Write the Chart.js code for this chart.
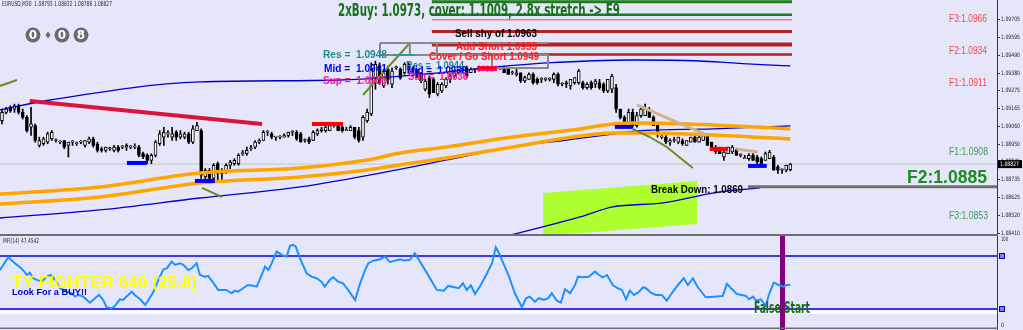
<!DOCTYPE html>
<html lang="en">
<head>
  <meta charset="UTF-8">
  <title>EURUSD,M30</title>
  <script src="https://cdn.jsdelivr.net/npm/chart.js"></script>
  <style>
    html, body { margin: 0; padding: 0; background: #E6E6FA; }
    #wrap { position: relative; width: 1023px; height: 330px; overflow: hidden; background: #E6E6FA; }
    #priceCanvas { position: absolute; left: 0; top: 0; width: 1023px; height: 236px; }
    #mfiCanvas { position: absolute; left: 0; top: 236px; width: 1023px; height: 94px; }
  </style>
</head>
<body>
  <div id="wrap">
    <canvas id="priceCanvas" width="1023" height="236"></canvas>
    <canvas id="mfiCanvas" width="1023" height="94"></canvas>
  </div>

  <script>
    // price scale labels
    const priceTicks = [1.09705, 1.09595, 1.09490, 1.09380, 1.09275, 1.09165, 1.09060,
                        1.08950, 1.08845, 1.08735, 1.08625, 1.08520, 1.08410];

    // candles [open, high, low, close], one per M30 bar
    const ohlc = [
      [1.0909,1.0916,1.0907,1.0914],[1.0914,1.0917,1.0913,1.0916],[1.0917,1.0918,1.0914,1.0915],[1.0916,1.0919,1.0914,1.0918],[1.0918,1.0919,1.0913,1.0914],
      [1.0914,1.0916,1.0910,1.0911],[1.0911,1.0912,1.0902,1.0903],[1.0905,1.0917,1.0900,1.0907],[1.0906,1.0907,1.0896,1.0897],[1.0894,1.0899,1.0893,1.0897],
      [1.0895,1.0899,1.0894,1.0898],[1.0896,1.0902,1.0895,1.0901],[1.0898,1.0903,1.0897,1.0902],[1.0897,1.0898,1.0896,1.0897],[1.0896,1.0897,1.0895,1.0896],
      [1.0897,1.0897,1.0892,1.0893],[1.0894,1.0896,1.0887,1.0896],[1.0896,1.0897,1.0894,1.0896],[1.0895,1.0896,1.0894,1.0895],[1.0896,1.0897,1.0895,1.0896],
      [1.0894,1.0897,1.0893,1.0897],[1.0896,1.0899,1.0895,1.0898],[1.0898,1.0899,1.0893,1.0894],[1.0895,1.0896,1.0890,1.0891],[1.0892,1.0893,1.0890,1.0891],
      [1.0891,1.0893,1.0890,1.0893],[1.0892,1.0893,1.0891,1.0892],[1.0891,1.0894,1.0890,1.0893],[1.0893,1.0894,1.0890,1.0891],[1.0893,1.0894,1.0892,1.0893],
      [1.0893,1.0895,1.0891,1.0894],[1.0893,1.0894,1.0892,1.0893],[1.0893,1.0895,1.0892,1.0893],[1.0893,1.0894,1.0887,1.0888],[1.0889,1.0890,1.0886,1.0887],
      [1.0888,1.0889,1.0883,1.0885],[1.0885,1.0889,1.0883,1.0888],[1.0888,1.0897,1.0887,1.0896],[1.0895,1.0903,1.0894,1.0901],[1.0899,1.0905,1.0894,1.0902],
      [1.0901,1.0903,1.0899,1.0901],[1.0899,1.0905,1.0897,1.0901],[1.0902,1.0903,1.0897,1.0899],[1.0899,1.0903,1.0898,1.0901],[1.0899,1.0902,1.0898,1.0901],
      [1.0901,1.0902,1.0895,1.0896],[1.0896,1.0906,1.0895,1.0904],[1.0903,1.0908,1.0903,1.0906],[1.0903,1.0904,1.0874,1.0876],[1.0875,1.0880,1.0871,1.0879],
      [1.0879,1.0880,1.0871,1.0874],[1.0874,1.0883,1.0873,1.0882],[1.0883,1.0884,1.0873,1.0877],[1.0877,1.0880,1.0873,1.0879],[1.0878,1.0883,1.0877,1.0882],
      [1.0882,1.0885,1.0880,1.0884],[1.0883,1.0886,1.0882,1.0885],[1.0883,1.0889,1.0882,1.0888],[1.0889,1.0891,1.0888,1.0889],[1.0889,1.0893,1.0888,1.0891],
      [1.0892,1.0894,1.0891,1.0892],[1.0893,1.0897,1.0892,1.0896],[1.0896,1.0898,1.0895,1.0897],[1.0897,1.0903,1.0897,1.0902],[1.0902,1.0903,1.0900,1.0902],
      [1.0901,1.0902,1.0898,1.0899],[1.0899,1.0899,1.0897,1.0899],[1.0899,1.0900,1.0898,1.0899],[1.0899,1.0901,1.0899,1.0900],[1.0900,1.0902,1.0899,1.0902],
      [1.0902,1.0903,1.0900,1.0902],[1.0902,1.0903,1.0897,1.0898],[1.0901,1.0902,1.0896,1.0896],[1.0897,1.0898,1.0896,1.0897],[1.0898,1.0899,1.0895,1.0896],
      [1.0897,1.0903,1.0897,1.0902],[1.0901,1.0904,1.0900,1.0903],[1.0903,1.0905,1.0902,1.0904],[1.0903,1.0906,1.0902,1.0905],[1.0903,1.0907,1.0903,1.0906],
      [1.0906,1.0907,1.0905,1.0906],[1.0906,1.0907,1.0903,1.0903],[1.0905,1.0906,1.0902,1.0903],[1.0903,1.0905,1.0903,1.0903],[1.0903,1.0906,1.0903,1.0905],
      [1.0905,1.0905,1.0898,1.0899],[1.0903,1.0905,1.0896,1.0897],[1.0899,1.0912,1.0897,1.0911],[1.0909,1.0916,1.0908,1.0914],[1.0913,1.0944,1.0912,1.0940],
      [1.0935,1.0945,1.0928,1.0943],[1.0942,1.0944,1.0931,1.0932],[1.0930,1.0940,1.0929,1.0938],[1.0940,1.0942,1.0931,1.0934],[1.0931,1.0941,1.0929,1.0939],
      [1.0941,1.0942,1.0940,1.0941],[1.0940,1.0941,1.0934,1.0935],[1.0938,1.0944,1.0937,1.0943],[1.0940,1.0944,1.0938,1.0943],[1.0940,1.0941,1.0938,1.0940],
      [1.0940,1.0940,1.0935,1.0937],[1.0938,1.0938,1.0932,1.0933],[1.0928,1.0934,1.0927,1.0933],[1.0935,1.0936,1.0923,1.0925],[1.0934,1.0935,1.0926,1.0926],
      [1.0925,1.0932,1.0924,1.0931],[1.0927,1.0932,1.0926,1.0931],[1.0930,1.0935,1.0929,1.0934],[1.0934,1.0937,1.0932,1.0936],[1.0936,1.0939,1.0935,1.0938],
      [1.0938,1.0940,1.0937,1.0940],[1.0940,1.0941,1.0938,1.0940],[1.0941,1.0942,1.0935,1.0936],[1.0938,1.0941,1.0938,1.0940],[1.0940,1.0940,1.0938,1.0940],
      [1.0940,1.0942,1.0939,1.0941],[1.0941,1.0942,1.0940,1.0941],[1.0940,1.0942,1.0939,1.0941],[1.0940,1.0941,1.0939,1.0940],[1.0941,1.0942,1.0940,1.0941],
      [1.0941,1.0942,1.0940,1.0941],[1.0941,1.0942,1.0938,1.0938],[1.0940,1.0941,1.0937,1.0937],[1.0938,1.0939,1.0937,1.0938],[1.0937,1.0940,1.0936,1.0938],
      [1.0938,1.0938,1.0932,1.0933],[1.0933,1.0936,1.0932,1.0935],[1.0934,1.0938,1.0934,1.0937],[1.0937,1.0938,1.0931,1.0932],[1.0934,1.0935,1.0931,1.0932],
      [1.0934,1.0935,1.0932,1.0934],[1.0934,1.0935,1.0933,1.0934],[1.0934,1.0935,1.0933,1.0934],[1.0934,1.0938,1.0932,1.0937],[1.0937,1.0938,1.0930,1.0931],
      [1.0931,1.0932,1.0930,1.0931],[1.0932,1.0933,1.0929,1.0931],[1.0930,1.0934,1.0928,1.0934],[1.0932,1.0935,1.0931,1.0935],[1.0932,1.0940,1.0931,1.0939],
      [1.0932,1.0933,1.0928,1.0929],[1.0929,1.0932,1.0928,1.0931],[1.0932,1.0933,1.0928,1.0929],[1.0931,1.0934,1.0929,1.0933],[1.0932,1.0934,1.0928,1.0929],
      [1.0931,1.0932,1.0926,1.0927],[1.0927,1.0934,1.0926,1.0934],[1.0928,1.0937,1.0926,1.0936],[1.0929,1.0931,1.0914,1.0916],[1.0916,1.0916,1.0910,1.0911],
      [1.0911,1.0912,1.0905,1.0906],[1.0908,1.0916,1.0907,1.0914],[1.0914,1.0916,1.0905,1.0906],[1.0906,1.0914,1.0905,1.0912],[1.0912,1.0917,1.0911,1.0916],
      [1.0912,1.0919,1.0912,1.0916],[1.0916,1.0917,1.0911,1.0911],[1.0911,1.0912,1.0906,1.0906],[1.0907,1.0908,1.0899,1.0902],[1.0899,1.0900,1.0898,1.0899],
      [1.0899,1.0900,1.0895,1.0896],[1.0896,1.0898,1.0894,1.0897],[1.0897,1.0899,1.0896,1.0897],[1.0896,1.0899,1.0895,1.0899],[1.0897,1.0898,1.0894,1.0895],
      [1.0894,1.0897,1.0894,1.0897],[1.0896,1.0899,1.0896,1.0899],[1.0899,1.0900,1.0896,1.0896],[1.0896,1.0900,1.0896,1.0899],[1.0897,1.0902,1.0897,1.0900],
      [1.0900,1.0901,1.0894,1.0894],[1.0896,1.0896,1.0891,1.0891],[1.0893,1.0894,1.0889,1.0890],[1.0892,1.0893,1.0889,1.0889],[1.0887,1.0891,1.0885,1.0890],
      [1.0889,1.0893,1.0889,1.0893],[1.0890,1.0894,1.0889,1.0893],[1.0891,1.0892,1.0888,1.0888],[1.0888,1.0889,1.0887,1.0888],[1.0886,1.0888,1.0886,1.0886],
      [1.0886,1.0889,1.0885,1.0888],[1.0888,1.0889,1.0885,1.0885],[1.0887,1.0888,1.0883,1.0884],[1.0886,1.0887,1.0882,1.0883],[1.0885,1.0890,1.0885,1.0889],
      [1.0886,1.0891,1.0886,1.0890],[1.0887,1.0888,1.0879,1.0879],[1.0881,1.0882,1.0877,1.0879],[1.0879,1.0880,1.0877,1.0879],[1.0879,1.0882,1.0878,1.0882],
      [1.08793,1.08832,1.08786,1.08827]
    ];

    // moving averages, read at a few bars
    const fastBars = [-0.5, 23.6, 47.7, 71.8, 88, 95.9, 107.2, 123.1, 139.3, 147.2, 153, 171.3, 190];
    const fastVals = [1.08646, 1.08689, 1.08773, 1.08804, 1.08852, 1.08894, 1.08931, 1.08991, 1.09040, 1.09070, 1.09076, 1.09064, 1.09040];
    const midBars  = [-0.5, 23.6, 47.7, 71.8, 88, 95.9, 107.2, 123.1, 136.1, 147.2, 155.4, 171.3, 190];
    const midVals  = [1.08586, 1.08628, 1.08713, 1.08749, 1.08792, 1.08822, 1.08864, 1.08931, 1.08985, 1.09015, 1.09015, 1.09003, 1.08979];
    const slowBars = [-0.5, 23.6, 47.7, 71.8, 91.1, 107.2, 123.1, 136.1, 147.2, 153, 171.3, 190];
    const slowVals = [1.08501, 1.08550, 1.08622, 1.08689, 1.08773, 1.08852, 1.08931, 1.08973, 1.09009, 1.09028, 1.09040, 1.09058];
    const topBars  = [-0.5, 11.6, 47.7, 81.4, 131.3, 152, 168.2, 176.1, 184.3, 190];
    const topVals  = [1.09155, 1.09215, 1.09324, 1.09336, 1.09439, 1.09457, 1.09451, 1.09439, 1.09427, 1.09421];
    const bandBars = [117.6, 121.7, 139.3, 147.2, 159.3, 171.3, 182.7];
    const bandVals = [1.08368, 1.08392, 1.08507, 1.08568, 1.08592, 1.08652, 1.08683];

    // green target zone corners
    const zoneBars   = [130.4, 167.5, 167.5, 130.4];
    const zonePrices = [1.08652, 1.08725, 1.08465, 1.08392];

    // trade levels drawn from bar 103.6
    const tradeLevels = [1.0981, 1.0973, 1.0970, 1.0963, 1.0955, 1.0949];
    const breakDown = 1.0869;

    // MFI(14)
    const mfiBars = [-0.5,1.5,3.1,4.7,6,6.7,7.5,8.4,9.6,10.8,11.7,12.8,14,15.6,16.8,17.6,18.4,19.6,21.2,22.4,23.4,24.4,25.2,26.4,27.2,28.4,29.2,30.4,31.3,32,
      33.3,34.5,35.3,36.5,37.7,38.9,39.7,40.9,41.7,42.9,43.7,44.9,45.7,46.9,47.7,48.9,49.7,50.9,52.1,53.3,54.1,55.3,56.1,56.9,58.1,59.3,60.6,61.4,62.6,63.4,
      64.2,65,66.2,67.4,68.6,69.4,70.2,70.8,71.8,73.4,74.6,75.8,77,77.8,79,79.8,81,82.2,83.4,85.1,86.3,87.5,88.3,89.5,91.1,92.3,93.5,94.7,95.9,96.9,
      98.3,99.5,102.2,104.8,106.5,107.5,110.1,111.1,112,113,114,115.4,116.9,118.1,119,119.8,121,122.2,123.6,125.3,126.3,127.2,128.4,129.4,130.6,131.6,132.5,133.7,134.7,135.7,
      136.9,138.1,138.8,140,141.4,142.9,143.9,144.8,145.8,147.2,148.4,149.4,150.4,151.3,152.3,153.3,154.5,155.2,156.4,157.6,159,160.2,161.4,162.9,164.3,165.3,166.5,167.7,169.6,171.6,
      173.7,174.7,175.7,177.1,178.3,179.3,180,181,181.7,182.9,184.1,184.8,186,187.2,188.2,189.2,190];
    const mfiVals = [64,78.6,71.8,66,58.5,61,54.8,52.9,51,56.6,58.5,52.9,43.5,39.6,37.8,34,35.9,34,27.2,32.2,35.9,30.2,22,20.8,23.4,31,30.2,35.9,39.6,35.9,
      31,24.6,30.2,39.6,52.9,65,66,73.6,69.9,71.8,69.9,64,66,71.8,58.5,56.6,57.4,49.8,41.6,41.6,41.6,37.8,40.8,39.6,43.5,47.2,46.4,45.3,58.5,68,
      64,71.8,85,81.2,79.3,91.4,92.5,90.6,77.5,60.5,56.6,54.8,51,45.3,52.9,56,51,49,41.6,30.2,49,64,71.8,74.7,76.3,79.3,73,74.7,76.3,75,
      75.6,83.1,62.3,41.6,40.8,46.1,43.5,49.1,41.6,46.9,37,47.2,60.5,71.8,89.9,83.1,69.9,56.6,37.8,22,32.2,34,28.3,32.2,30.2,32.2,37.8,29.4,27.2,42.4,
      37.8,47.2,56.6,55.9,56.6,62.3,58.5,55.9,58.5,47.2,43.5,41.6,31,40.8,35.9,38.5,44.6,43.5,38.5,35.9,35.9,29.4,37.8,47.2,54.8,47.2,54.8,44.6,33.3,34,
      34.8,48.4,43.5,37,35.9,34.8,31,34,29.4,31,23.4,35.9,49.8,47.2,45.3,47.2,47.4542];
    const mfiLevels = [80, 20];
    const signalBar = 188.1;

    const BAR_MIN = -0.48, BAR_MAX = 239.8;

    // helpers
    function at(chart, bar, val) {
      return [chart.scales.x.getPixelForValue(bar), chart.scales.y.getPixelForValue(val)];
    }
    function path(ctx, pts, color, width) {
      ctx.save();
      ctx.strokeStyle = color; ctx.lineWidth = width; ctx.lineJoin = 'round';
      ctx.beginPath();
      pts.forEach((p, i) => i ? ctx.lineTo(p[0], p[1]) : ctx.moveTo(p[0], p[1]));
      ctx.stroke();
      ctx.restore();
    }
    function fitText(ctx, str, x, y, w, font, color) {
      ctx.save();
      ctx.font = font; ctx.fillStyle = color;
      ctx.textAlign = 'left'; ctx.textBaseline = 'middle';
      const m = ctx.measureText(str).width;
      ctx.translate(x, y); ctx.scale(w / m, 1);
      ctx.fillText(str, 0, 0);
      ctx.restore();
    }
    function clipArea(ctx, a) {
      ctx.save();
      ctx.beginPath(); ctx.rect(a.left, a.top, a.right - a.left, a.bottom - a.top); ctx.clip();
    }
    const xy = (bars, vals) => bars.map((b, i) => ({ x: b, y: vals[i] }));

    const levelStyle = [['#1E7B1E', 3], ['#1E7B1E', 2.5], ['#F07878', 1.5], ['#B22222', 3], ['#B22222', 4], ['#B22222', 2.5]];

    // hand drawn objects on the chart (bar, price)
    const sketches = [
      { c: '#DC143C', w: 4, pts: [[6.7, 1.09209], [62.7, 1.09070]] },
      { c: '#6B8E23', w: 2, pts: [[-0.5, 1.09300], [3.6, 1.09336]] },
      { c: '#6B8E23', w: 2, pts: [[87, 1.09245], [98.3, 1.09560]] },
      { c: '#6B8E23', w: 2, pts: [[48.2, 1.08683], [53, 1.08628]] },
      { c: '#6B8E23', w: 2, pts: [[152, 1.09040], [156.1, 1.08991], [160.2, 1.08931], [166.5, 1.08804]] },
      { c: '#D2B48C', w: 3, pts: [[153, 1.09185], [169.9, 1.09003]] },
      { c: '#D2B48C', w: 3, pts: [[177, 1.08919], [182.2, 1.08900]] },
      { c: '#8A8A8A', w: 2, pts: [[91.1, 1.09560], [131.6, 1.09560]] },
      { c: '#8A8A8A', w: 2, pts: [[91.1, 1.09560], [91.1, 1.09487], [131.6, 1.09487], [131.6, 1.09409], [118.1, 1.09409], [118.1, 1.09487]] },
      { c: '#8A8A8A', w: 2, pts: [[98.3, 1.09560], [98.3, 1.09487]] },
      { c: '#8A8A8A', w: 2, pts: [[104.8, 1.09560], [104.8, 1.09487]] },
      { c: '#20A0A0', w: 2, pts: [[94.2, 1.09487], [99.5, 1.09487]] },
      { c: '#0000FF', w: 4, pts: [[30.1, 1.08834], [34.9, 1.08834]] },
      { c: '#0000FF', w: 4, pts: [[46.5, 1.08725], [51.3, 1.08725]] },
      { c: '#0000FF', w: 4, pts: [[147.7, 1.09052], [152, 1.09052]] },
      { c: '#0000FF', w: 4, pts: [[179.8, 1.08816], [184.3, 1.08816]] },
      { c: '#FF0000', w: 4, pts: [[74.7, 1.09070], [82.2, 1.09070]] },
      { c: '#FF1493', w: 5, pts: [[114.5, 1.09405], [119.3, 1.09405]] },
      { c: '#FF0000', w: 3, pts: [[114.5, 1.09409], [119.3, 1.09409]] },
      { c: '#FF0000', w: 4, pts: [[170.6, 1.08919], [175, 1.08919]] }
    ];

    const B = 'bold ', AR = 'px "Liberation Sans", Arial, sans-serif';
    const NAR = 'px "Liberation Sans Narrow", "DejaVu Sans Condensed", "Liberation Sans", sans-serif';
    // text objects: [text, left, middle y, width, font, colour]
    const priceNotes = [
      ['2xBuy: 1.0973, cover: 1.1009, 2.8x stretch -> E9', 338, 11.5, 282, B + '17' + NAR, '#17701A'],
      ['Sell shy of 1.0963', 455, 34.5, 82, B + '10' + AR, '#000000'],
      ['Add Short 1.0955', 456, 47, 81, B + '10' + AR, '#FF1A1A'],
      ['Cover / Go Short 1.0949', 429, 57.5, 110, B + '10' + AR, '#FF1A1A'],
      ['Res =  1.0948', 323, 55, 64, B + '10' + AR, '#1E8C8C'],
      ['Mid =  1.0941', 324, 69.5, 63, B + '10' + AR, '#0000E6'],
      ['Sup =  1.0935', 323, 81.5, 64, B + '10' + AR, '#FF1493'],
      ['Res =  1.0944', 406, 66.5, 58, B + '10' + AR, '#1E8C8C'],
      ['Mid =  1.0939', 407, 71.5, 60, B + '10' + AR, '#0000E6'],
      ['Sup =  1.0936', 408, 77, 60, B + '10' + AR, '#FF1493'],
      ['F3:1.0966', 949, 19, 38, '10.5' + AR, '#F04848'],
      ['F2:1.0934', 949, 51.5, 38, '10.5' + AR, '#F04848'],
      ['F1:1.0911', 949, 83.5, 38, '10.5' + AR, '#F04848'],
      ['F1:1.0908', 949, 152.5, 39, '10.5' + AR, '#3C9C5C'],
      ['F2:1.0885', 907, 178.5, 80, B + '18' + AR, '#1E8C1E'],
      ['F3:1.0853', 949, 216, 39, '10.5' + AR, '#3C9C5C'],
      ['Break Down: 1.0869', 651, 190, 92, B + '10' + AR, '#000000']
    ];

    const priceOverlay = {
      id: 'priceOverlay',
      beforeDatasetsDraw(chart) {
        const { ctx, chartArea: a } = chart;
        clipArea(ctx, a);
        ctx.fillStyle = '#ADFF2F';
        ctx.beginPath();
        zoneBars.forEach((b, i) => {
          const p = at(chart, b, zonePrices[i]);
          i ? ctx.lineTo(p[0], p[1]) : ctx.moveTo(p[0], p[1]);
        });
        ctx.closePath(); ctx.fill();
        const bid = ohlc[ohlc.length - 1][3];
        path(ctx, [at(chart, BAR_MIN, bid), at(chart, BAR_MAX, bid)], '#C6C6C6', 1);
        ctx.restore();
      },
      afterDatasetsDraw(chart) {
        const { ctx, chartArea: a } = chart;
        clipArea(ctx, a);
        tradeLevels.forEach((p, i) => path(ctx, [at(chart, 103.6, p), at(chart, 190.4, p)], levelStyle[i][0], levelStyle[i][1]));
        path(ctx, [at(chart, 179.8, breakDown), at(chart, BAR_MAX, breakDown)], '#6E6E6E', 3);
        sketches.forEach(s => path(ctx, s.pts.map(p => at(chart, p[0], p[1])), s.c, s.w));
        priceNotes.forEach(n => fitText(ctx, n[0], n[1], n[2], n[3], n[4], n[5]));

        // header and the little counter
        const last = ohlc[ohlc.length - 1];
        fitText(ctx, 'EURUSD,M30  ' + [last[0], last[1], last[2], last[3]].map(v => v.toFixed(5)).join(' '),
          2, 4.5, 110, '7px "DejaVu Sans", sans-serif', '#2A2A2A');
        [[33, '0'], [62, '0'], [81, '8']].forEach(c => {
          ctx.fillStyle = '#6A6A6A';
          ctx.beginPath(); ctx.arc(c[0], 35, 7.5, 0, Math.PI * 2); ctx.fill();
          ctx.fillStyle = '#FFFFFF'; ctx.font = 'bold 12px "DejaVu Sans", sans-serif';
          ctx.textAlign = 'center'; ctx.textBaseline = 'middle';
          ctx.fillText(c[1], c[0], 35.5);
        });
        ctx.fillStyle = '#6A6A6A';
        ctx.beginPath(); ctx.moveTo(48, 31.5); ctx.lineTo(50.5, 35); ctx.lineTo(48, 38.5); ctx.lineTo(45.5, 35); ctx.closePath(); ctx.fill();
        ctx.restore();
      },
      afterDraw(chart) {
        const { ctx, chartArea: a, scales: { y } } = chart;
        ctx.save();
        ctx.fillStyle = '#3A3A3A';
        ctx.fillRect(a.right, 0, 1, chart.height);
        y.ticks.forEach(t => {
          const py = Math.round(y.getPixelForValue(t.value));
          ctx.fillStyle = '#3A3A3A';
          ctx.fillRect(a.right, py, 3, 1);
          fitText(ctx, t.value.toFixed(5), a.right + 4, py + 0.5, 19, '6px "DejaVu Sans", sans-serif', '#1A1A1A');
        });
        const bid = ohlc[ohlc.length - 1][3];
        const by = y.getPixelForValue(bid);
        ctx.fillStyle = '#000000';
        ctx.fillRect(a.right + 1, by - 4, 24, 8);
        fitText(ctx, bid.toFixed(5), a.right + 3, by, 19, '6px "DejaVu Sans", sans-serif', '#FFFFFF');
        // panel separator
        ctx.fillStyle = '#6E6E6E';
        ctx.fillRect(0, 234, a.right + 1, 2);
        ctx.restore();
      }
    };

    const mfiOverlay = {
      id: 'mfiOverlay',
      beforeDatasetsDraw(chart) {
        const { ctx, chartArea: a } = chart;
        clipArea(ctx, a);
        mfiLevels.forEach(v => path(ctx, [at(chart, BAR_MIN, v), at(chart, BAR_MAX, v)], '#0000CD', 1.5));
        path(ctx, [at(chart, BAR_MIN, 16.4), at(chart, BAR_MAX, 16.4)], '#FFFFFF', 3.5);
        const sx = chart.scales.x.getPixelForValue(signalBar);
        ctx.fillStyle = '#800080';
        ctx.fillRect(sx - 2.5, a.top, 5, a.bottom - a.top);
        ctx.restore();
      },
      afterDatasetsDraw(chart) {
        const { ctx, chartArea: a } = chart;
        clipArea(ctx, a);
        fitText(ctx, 'MFI(14) ' + mfiVals[mfiVals.length - 1].toFixed(4), 3, 5, 36, '7px "DejaVu Sans", sans-serif', '#2A2A2A');
        fitText(ctx, 'TY FIGHTER 640 (25.8)', 12, 47.5, 185, 'bold 16' + AR, '#FFFF00');
        fitText(ctx, 'Look For a BUY!!', 12, 57, 75, 'bold 9' + AR, '#0000CD');
        fitText(ctx, 'False Start', 754, 73.5, 56, 'bold 15' + NAR, '#1A6B1A');
        ctx.restore();
      },
      afterDraw(chart) {
        const { ctx, chartArea: a, scales: { y } } = chart;
        ctx.save();
        ctx.fillStyle = '#3A3A3A';
        ctx.fillRect(a.right, 0, 1, chart.height);
        fitText(ctx, '100', a.right + 4, y.getPixelForValue(100) + 1, 7, '6px "DejaVu Sans", sans-serif', '#1A1A1A');
        fitText(ctx, '0', a.right + 4, y.getPixelForValue(0) - 1, 3, '6px "DejaVu Sans", sans-serif', '#1A1A1A');
        mfiLevels.forEach(v => {
          const py = y.getPixelForValue(v);
          ctx.fillStyle = '#0000CD';
          ctx.fillRect(a.right + 2, py - 3, 6, 6);
          ctx.fillStyle = '#8080F0';
          ctx.fillRect(a.right + 3, py - 2, 4, 4);
        });
        ctx.fillStyle = '#6E6E6E';
        ctx.fillRect(0, 91.5, a.right + 1, 1.5);
        ctx.restore();
      }
    };

    const xScale = { type: 'linear', min: BAR_MIN, max: BAR_MAX, display: false, offset: false };
    const yBase = {
      position: 'right',
      ticks: { display: false },
      grid: { display: false },
      border: { display: false },
      afterFit(s) { s.width = 26; }
    };

    // price panel
    new Chart(document.getElementById('priceCanvas').getContext('2d'), {
      type: 'bar',
      data: {
        datasets: [
          { type: 'line', data: xy(fastBars, fastVals), borderColor: '#FFA500', borderWidth: 3.5, pointRadius: 0, cubicInterpolationMode: 'monotone' },
          { type: 'line', data: xy(midBars, midVals), borderColor: '#FFA500', borderWidth: 3.5, pointRadius: 0, cubicInterpolationMode: 'monotone' },
          { type: 'line', data: xy(slowBars, slowVals), borderColor: '#0000CD', borderWidth: 1.3, pointRadius: 0, cubicInterpolationMode: 'monotone' },
          { type: 'line', data: xy(topBars, topVals), borderColor: '#0000CD', borderWidth: 1.3, pointRadius: 0, cubicInterpolationMode: 'monotone' },
          { type: 'line', data: xy(bandBars, bandVals), borderColor: '#0000CD', borderWidth: 1.3, pointRadius: 0, cubicInterpolationMode: 'monotone' },
          {
            data: ohlc.map((c, i) => ({ x: i, y: [Math.min(c[0], c[3]), Math.max(c[0], c[3])] })),
            backgroundColor: ohlc.map(c => c[3] >= c[0] ? '#FFFFFF' : '#000000'),
            borderColor: '#000000', borderWidth: 1, borderSkipped: false,
            barThickness: 3, minBarLength: 1, grouped: false
          },
          {
            data: ohlc.map((c, i) => ({ x: i, y: [c[2], c[1]] })),
            backgroundColor: '#000000', borderWidth: 0, barThickness: 1, grouped: false
          }
        ]
      },
      options: {
        responsive: false,
        animation: false,
        devicePixelRatio: 1,
        layout: { padding: 0 },
        plugins: { legend: { display: false }, tooltip: { enabled: false } },
        scales: {
          x: xScale,
          y: Object.assign({}, yBase, {
            type: 'linear', min: 1.08392, max: 1.09820,
            afterBuildTicks(s) { s.ticks = priceTicks.map(v => ({ value: v })); }
          })
        }
      },
      plugins: [priceOverlay]
    });

    // MFI panel
    new Chart(document.getElementById('mfiCanvas').getContext('2d'), {
      type: 'line',
      data: {
        datasets: [{
          data: xy(mfiBars, mfiVals),
          borderColor: '#1E90FF', borderWidth: 2, pointRadius: 0, tension: 0
        }]
      },
      options: {
        responsive: false,
        animation: false,
        devicePixelRatio: 1,
        layout: { padding: 0 },
        plugins: { legend: { display: false }, tooltip: { enabled: false } },
        scales: {
          x: xScale,
          y: Object.assign({}, yBase, { type: 'linear', min: -3.74, max: 102.6 })
        }
      },
      plugins: [mfiOverlay]
    });
  </script>
</body>
</html>
